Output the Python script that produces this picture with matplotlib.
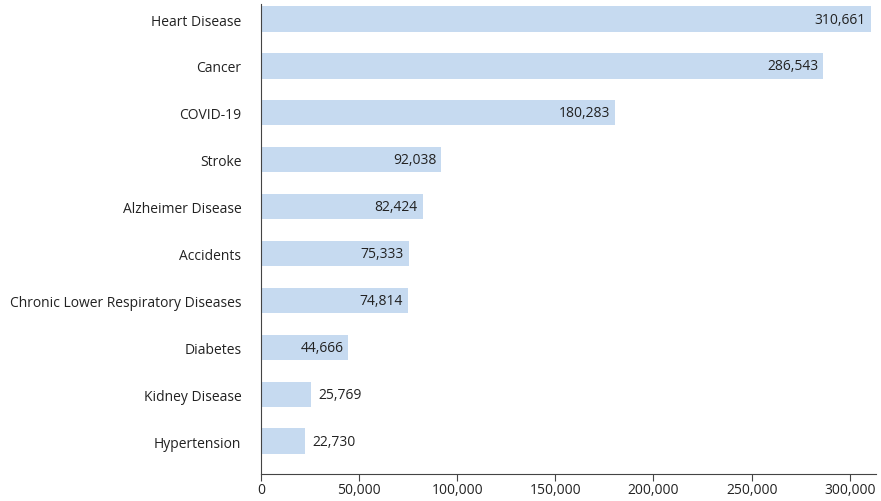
import matplotlib.pyplot as plt
from matplotlib.ticker import FuncFormatter

plt.rcParams['font.family'] = ['Open Sans', 'DejaVu Sans']

causes = ["Heart Disease", "Cancer", "COVID-19", "Stroke", "Alzheimer Disease",
          "Accidents", "Chronic Lower Respiratory Diseases", "Diabetes",
          "Kidney Disease", "Hypertension"]
deaths = [310661, 286543, 180283, 92038, 82424, 75333, 74814, 44666, 25769, 22730]

fig = plt.figure(figsize=(8.81, 5.02), dpi=100)
ax = fig.add_axes([0.296, 0.054, 0.698, 0.936])

pos = list(range(len(causes)))
ax.barh(pos, deaths, height=0.54, color="#c6daf0")

for p, v in zip(pos, deaths):
    txt = f"{v:,}"
    if v > 40000:
        ax.text(v - 2500, p, txt, va="center", ha="right", fontsize=10, color="#222222")
    else:
        ax.text(v + 3500, p, txt, va="center", ha="left", fontsize=10, color="#222222")

ax.set_yticks(pos)
ax.set_yticklabels(causes, fontsize=10, color="#222222")
ax.set_ylim(9.7, -0.32)
ax.set_xlim(0, 313200)
ax.set_xticks([0, 50000, 100000, 150000, 200000, 250000, 300000])
ax.xaxis.set_major_formatter(FuncFormatter(lambda x, _: f"{int(x):,}"))
ax.tick_params(axis="x", labelsize=10, colors="#222222", length=5, pad=1, color="#444444")
ax.tick_params(axis="y", length=0, pad=14)

for s in ["top", "right"]:
    ax.spines[s].set_visible(False)
ax.spines["left"].set_color("#444444")
ax.spines["bottom"].set_color("#444444")

fig.savefig("out.png", dpi=100)
